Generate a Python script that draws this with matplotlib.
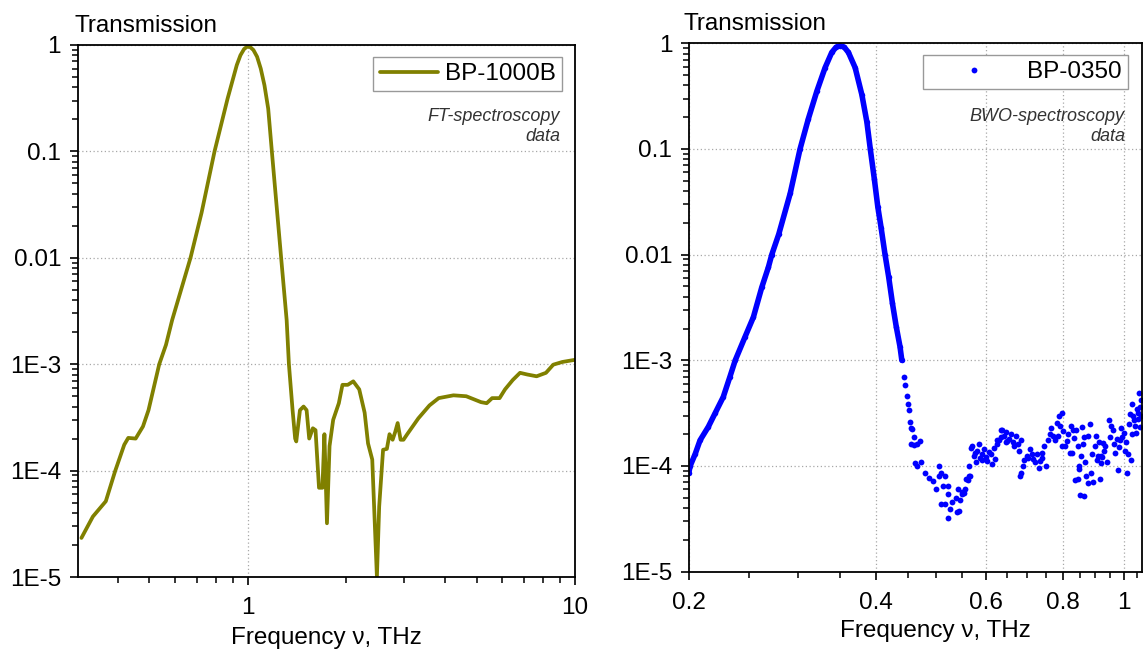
import matplotlib
matplotlib.use('Agg')
import matplotlib.pyplot as plt
from matplotlib.ticker import LogLocator, NullFormatter, FixedLocator

plt.rcParams['font.family'] = ['Liberation Sans', 'DejaVu Sans']

# ---------------- data ----------------
ft_freq = [0.310, 0.336, 0.368, 0.393, 0.419, 0.431, 0.454, 0.478, 0.497, 0.536,
           0.562, 0.587, 0.668, 0.722, 0.791, 0.867, 0.925, 0.949, 0.974, 0.995,
           1.016, 1.040, 1.067, 1.095, 1.124, 1.154, 1.184, 1.264, 1.314, 1.335,
           1.370, 1.395, 1.406, 1.443, 1.480, 1.512, 1.540, 1.580, 1.610, 1.650,
           1.690, 1.714, 1.745, 1.777, 1.823, 1.897, 1.946, 2.020, 2.100, 2.190,
           2.275, 2.330, 2.400, 2.480, 2.520, 2.590, 2.660, 2.710, 2.770, 2.820,
           2.870, 2.930, 2.990, 3.070, 3.320, 3.590, 3.830, 4.250, 4.650, 5.160,
           5.370, 5.580, 5.880, 6.110, 6.450, 6.790, 7.150, 7.630, 8.150, 8.580,
           9.150, 10.0]
ft_trans = [2.33e-5, 3.7e-5, 5.15e-5, 9.9e-5, 1.75e-4, 2.03e-4, 2.0e-4, 2.6e-4, 3.7e-4, 1.0e-3,
            1.52e-3, 2.6e-3, 1.0e-2, 2.65e-2, 0.1, 0.313, 0.647, 0.80, 0.917, 0.964,
            0.957, 0.897, 0.776, 0.60, 0.418, 0.252, 0.1, 0.01, 2.6e-3, 1.0e-3,
            3.7e-4, 2.0e-4, 1.88e-4, 3.7e-4, 4.0e-4, 3.7e-4, 2.0e-4, 2.5e-4, 2.4e-4, 6.9e-5,
            6.9e-5, 2.2e-4, 3.2e-5, 1.7e-4, 3.0e-4, 4.3e-4, 6.4e-4, 6.4e-4, 6.9e-4, 5.8e-4,
            3.5e-4, 1.8e-4, 1.27e-4, 1.0e-5, 4.6e-5, 1.57e-4, 1.6e-4, 2.2e-4, 1.95e-4, 2.3e-4,
            2.8e-4, 1.95e-4, 1.95e-4, 2.2e-4, 3.1e-4, 4.1e-4, 4.8e-4, 5.1e-4, 5.0e-4, 4.4e-4,
            4.3e-4, 4.8e-4, 4.8e-4, 5.8e-4, 7.1e-4, 8.3e-4, 8.0e-4, 7.7e-4, 8.3e-4, 9.9e-4,
            1.05e-3, 1.1e-3]

# BWO data: densely sampled main band
bwo_band_freq = [0.2000, 0.2010, 0.2048, 0.2085, 0.2150, 0.2204, 0.2272, 0.2329, 0.2375, 0.2462,
                 0.2540, 0.2620, 0.2685, 0.2719, 0.2790, 0.2911, 0.3019, 0.3114, 0.3212, 0.3312,
                 0.3395, 0.3450, 0.3500, 0.3555, 0.3611, 0.3702, 0.3795, 0.3866, 0.3915, 0.3975,
                 0.4025, 0.4075, 0.4135, 0.4190, 0.4250, 0.4310, 0.4370, 0.4400]
bwo_band_trans = [8.6e-5, 1.0e-4, 1.3e-4, 1.75e-4, 2.35e-4, 3.15e-4, 4.5e-4, 7.0e-4, 1.0e-3, 1.66e-3,
                  2.56e-3, 4.9e-3, 7.6e-3, 1.0e-2, 1.56e-2, 3.8e-2, 0.1, 0.194, 0.351, 0.588,
                  0.82, 0.92, 0.95, 0.92, 0.82, 0.588, 0.326, 0.18, 0.1, 0.0515,
                  0.0285, 0.018, 0.01, 6.2e-3, 3.45e-3, 2.08e-3, 1.35e-3, 1.0e-3]

# BWO data: individual points of the tail
bwo_tail_freq = [0.4440, 0.4460, 0.4480, 0.4500, 0.4515, 0.4530, 0.4545, 0.4570, 0.4600, 0.4560,
                 0.4600, 0.4650, 0.4700, 0.4620, 0.4660, 0.4720, 0.4790, 0.4866, 0.4930, 0.4992,
                 0.5044, 0.5057, 0.5089, 0.5121, 0.5079, 0.5154, 0.5160, 0.5220, 0.5217, 0.5254,
                 0.5221, 0.5300, 0.5368, 0.5390, 0.5410, 0.5434, 0.5466, 0.5490, 0.5500, 0.5537,
                 0.5568, 0.5580, 0.5611, 0.5640, 0.5648, 0.5671, 0.5685, 0.5705, 0.5740, 0.5760,
                 0.5780, 0.5810, 0.5850, 0.5880, 0.5917, 0.5920, 0.5970, 0.6000, 0.6040, 0.6070,
                 0.6110, 0.6140, 0.6180, 0.6220, 0.6253, 0.6260, 0.6300, 0.6340, 0.6345, 0.6380,
                 0.6420, 0.6460, 0.6474, 0.6500, 0.6550, 0.6590, 0.6630, 0.6670, 0.6710, 0.6760,
                 0.6800, 0.6805, 0.6840, 0.6830, 0.6890, 0.6920, 0.6980, 0.7030, 0.7070, 0.7120,
                 0.7160, 0.7210, 0.7260, 0.7300, 0.7350, 0.7380, 0.7400, 0.7450, 0.7500, 0.7550,
                 0.7600, 0.7650, 0.7700, 0.7750, 0.7800, 0.7850, 0.7865, 0.7900, 0.7960, 0.7970,
                 0.8000, 0.8050, 0.8100, 0.8150, 0.8186, 0.8220, 0.8270, 0.8296, 0.8320, 0.8352,
                 0.8380, 0.8430, 0.8450, 0.8464, 0.8490, 0.8514, 0.8540, 0.8570, 0.8600, 0.8634,
                 0.8650, 0.8680, 0.8710, 0.8750, 0.8760, 0.8820, 0.8866, 0.8900, 0.8930, 0.8984,
                 0.9040, 0.9044, 0.9100, 0.9120, 0.9150, 0.9200, 0.9210, 0.9224, 0.9260, 0.9300,
                 0.9346, 0.9400, 0.9470, 0.9520, 0.9550, 0.9600, 0.9650, 0.9700, 0.9750, 0.9790,
                 0.9830, 0.9857, 0.9900, 0.9950, 1.0000, 1.0050, 1.0100, 1.0130, 1.0170, 1.0200,
                 1.0240, 1.0260, 1.0300, 1.0330, 1.0370, 1.0400, 1.0440, 1.0470, 1.0500, 1.0530,
                 1.0560, 1.0600, 1.0620, 1.0640, 1.0660, 1.0680]
bwo_tail_trans = [7.0e-4, 5.8e-4, 4.6e-4, 3.9e-4, 3.4e-4, 2.6e-4, 2.3e-4, 2.25e-4, 1.87e-4, 1.6e-4,
                  1.58e-4, 1.6e-4, 1.74e-4, 1.07e-4, 1.0e-4, 1.09e-4, 8.6e-5, 7.7e-5, 7.2e-5, 6.0e-5,
                  9.9e-5, 8.0e-5, 8.6e-5, 6.5e-5, 4.4e-5, 4.4e-5, 8.0e-5, 6.5e-5, 3.2e-5, 3.9e-5,
                  5.4e-5, 4.6e-5, 5.0e-5, 3.7e-5, 6.0e-5, 3.76e-5, 4.8e-5, 5.4e-5, 5.7e-5, 5.5e-5,
                  6.0e-5, 7.5e-5, 7.4e-5, 8.0e-5, 9.9e-5, 8.0e-5, 1.47e-4, 1.55e-4, 1.24e-4, 1.32e-4,
                  1.1e-4, 1.39e-4, 1.6e-4, 1.2e-4, 1.14e-4, 1.3e-4, 1.44e-4, 1.22e-4, 1.11e-4, 1.35e-4,
                  1.29e-4, 1.05e-4, 1.49e-4, 1.16e-4, 1.76e-4, 1.6e-4, 1.78e-4, 2.2e-4, 1.9e-4, 2.2e-4,
                  1.92e-4, 2.1e-4, 1.7e-4, 1.72e-4, 1.8e-4, 2.0e-4, 1.7e-4, 1.54e-4, 1.92e-4, 1.6e-4,
                  1.39e-4, 8.0e-5, 1.78e-4, 8.5e-5, 1.0e-4, 1.15e-4, 1.24e-4, 1.2e-4, 1.44e-4, 1.3e-4,
                  1.16e-4, 1.1e-4, 1.29e-4, 9.5e-5, 1.11e-4, 1.2e-4, 1.34e-4, 1.54e-4, 1.0e-4, 1.78e-4,
                  2.0e-4, 2.3e-4, 1.92e-4, 1.75e-4, 2.56e-4, 1.92e-4, 3.0e-4, 2.4e-4, 3.18e-4, 1.53e-4,
                  2.14e-4, 1.55e-4, 1.72e-4, 2.0e-4, 1.32e-4, 2.38e-4, 1.34e-4, 2.2e-4, 1.85e-4, 7.4e-5,
                  2.2e-4, 1.55e-4, 7.5e-5, 9.9e-5, 9.3e-5, 5.3e-5, 1.24e-4, 2.36e-4, 1.6e-4, 1.9e-4,
                  5.2e-5, 1.1e-4, 8.0e-5, 6.9e-5, 1.92e-4, 2.47e-4, 8.5e-5, 1.3e-4, 7.0e-5, 1.53e-4,
                  1.92e-4, 1.14e-4, 1.24e-4, 1.7e-4, 7.5e-5, 1.25e-4, 1.07e-4, 1.22e-4, 1.66e-4, 1.4e-4,
                  1.53e-4, 1.1e-4, 2.7e-4, 1.9e-4, 2.4e-4, 2.2e-4, 1.6e-4, 1.32e-4, 1.8e-4, 9.1e-5,
                  1.5e-4, 1.76e-4, 2.3e-4, 1.9e-4, 2.05e-4, 1.4e-4, 1.7e-4, 8.5e-5, 1.3e-4, 2.5e-4,
                  3.1e-4, 1.14e-4, 2.0e-4, 3.9e-4, 3.0e-4, 2.7e-4, 2.4e-4, 2.05e-4, 3.5e-4, 3.15e-4,
                  2.8e-4, 4.9e-4, 3.6e-4, 2.36e-4, 4.2e-4, 3.0e-4]

y_ticks = [1e-5, 1e-4, 1e-3, 1e-2, 1e-1, 1]
y_tick_labels = ['1E-5', '1E-4', '1E-3', '0.01', '0.1', '1']
left_x_ticks = [1, 10]
left_x_tick_labels = ['1', '10']
right_x_ticks = [0.2, 0.4, 0.6, 0.8, 1.0]
right_x_tick_labels = ['0.2', '0.4', '0.6', '0.8', '1']
right_x_minor = [0.25, 0.3, 0.35, 0.45, 0.5, 0.55, 0.65, 0.7, 0.75, 0.85, 0.9, 0.95, 1.05]

# ---------------- style ----------------
FS = 17.5
OLIVE = '#808000'
BLUE = '#0000ff'

fig = plt.figure(figsize=(11.48, 6.52), dpi=100)
ax1 = fig.add_axes([0.0677, 0.115, 0.4332, 0.816])
ax2 = fig.add_axes([0.600, 0.1232, 0.3945, 0.8104])

for ax in (ax1, ax2):
    ax.set_xscale('log')
    ax.set_yscale('log')
    ax.set_ylim(1e-5, 1)
    ax.yaxis.set_major_locator(FixedLocator(y_ticks))
    ax.set_yticklabels(y_tick_labels)
    ax.yaxis.set_minor_locator(LogLocator(base=10, subs=(2, 3, 4, 5, 6, 7, 8, 9), numticks=20))
    ax.yaxis.set_minor_formatter(NullFormatter())
    ax.tick_params(which='major', direction='out', length=6.0, width=1.2,
                   labelsize=FS, pad=6, top=False, right=False)
    ax.tick_params(which='minor', direction='out', length=4.3, width=1.1,
                   top=False, right=False)
    ax.tick_params(axis='x', which='major', pad=8.5)
    ax.grid(True, which='major', linestyle=(0, (1, 2)), color='#a8a8a8', linewidth=0.9)
    ax.set_axisbelow(True)
    for s in ax.spines.values():
        s.set_linewidth(1.3)
        s.set_color('black')

# left panel
ax1.set_xlim(0.302, 10)
ax1.xaxis.set_major_locator(FixedLocator(left_x_ticks))
ax1.set_xticklabels(left_x_tick_labels)
ax1.xaxis.set_minor_locator(LogLocator(base=10, subs=(2, 3, 4, 5, 6, 7, 8, 9), numticks=20))
ax1.xaxis.set_minor_formatter(NullFormatter())
ax1.plot(ft_freq, ft_trans, color=OLIVE, lw=2.7, label='BP-1000B',
         solid_joinstyle='round', solid_capstyle='round')
leg1 = ax1.legend(loc='upper right', bbox_to_anchor=(0.974, 0.977), fontsize=FS,
                  frameon=True, fancybox=False, edgecolor='#999999', framealpha=1,
                  handlelength=2.4, handletextpad=0.3, borderpad=0.25, borderaxespad=0)
leg1.get_frame().set_linewidth(1.0)
ax1.text(0.970, 0.8816, 'FT-spectroscopy\ndata', transform=ax1.transAxes, ha='right',
         va='top', fontsize=13, style='italic', color='#333333', multialignment='right')
ax1.text(-0.0074, 1.0244, 'Transmission', transform=ax1.transAxes, ha='left',
         va='baseline', fontsize=FS)
ax1.set_xlabel('Frequency \u03bd, THz', fontsize=FS, labelpad=5.5)

# right panel
ax2.set_xlim(0.2, 1.069)
ax2.xaxis.set_major_locator(FixedLocator(right_x_ticks))
ax2.set_xticklabels(right_x_tick_labels)
ax2.xaxis.set_minor_locator(FixedLocator(right_x_minor))
ax2.xaxis.set_minor_formatter(NullFormatter())
ax2.plot(bwo_band_freq, bwo_band_trans, '-', color=BLUE, lw=4.0,
         solid_capstyle='round', solid_joinstyle='round')
ax2.plot(bwo_band_freq, bwo_band_trans, 'o', color=BLUE, ms=4.0, mec='none')
ax2.plot(bwo_tail_freq, bwo_tail_trans, 'o', color=BLUE, ms=4.2, mec='none',
         label='BP-0350')
leg2 = ax2.legend(loc='upper right', bbox_to_anchor=(0.970, 0.978), fontsize=FS,
                  frameon=True, fancybox=False, edgecolor='#999999', framealpha=1,
                  handlelength=3.7, handletextpad=0.35, borderpad=0.25, borderaxespad=0,
                  numpoints=1)
leg2.get_frame().set_linewidth(1.0)
ax2.text(0.963, 0.8775, 'BWO-spectroscopy\ndata', transform=ax2.transAxes, ha='right',
         va='top', fontsize=13, style='italic', color='#333333', multialignment='right')
ax2.text(-0.0126, 1.025, 'Transmission', transform=ax2.transAxes, ha='left',
         va='baseline', fontsize=FS)
ax2.set_xlabel('Frequency \u03bd, THz', fontsize=FS, labelpad=4.5)
ax2.xaxis.label.set_x(0.544)

fig.savefig('out.png', dpi=100)
